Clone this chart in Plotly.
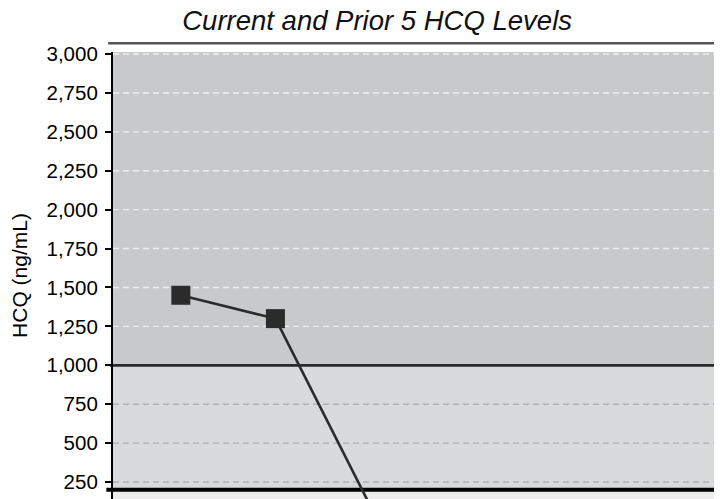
import plotly.graph_objects as go

# ---- data ----
sample_index = [1, 2, 3]
hcq_levels = [1450, 1300, 100]
tick_values = [250, 500, 750, 1000, 1250, 1500, 1750, 2000, 2250, 2500, 2750, 3000]
band_edges = [141, 200, 1000, 3013]   # lower edge, low threshold, high threshold, top
band_colors = ["#ededee", "#d9dadc", "#c8c9cb"]
threshold_values = [200, 1000]

y_range = [band_edges[0], band_edges[-1]]
x_range = [0.283, 6.72]

fig = go.Figure()

shapes = []
for i, col in enumerate(band_colors):
    shapes.append(dict(type="rect", xref="paper", yref="y", x0=0, x1=1,
                       y0=band_edges[i], y1=band_edges[i + 1],
                       fillcolor=col, line=dict(width=0), layer="below"))
for v in tick_values:
    if v in threshold_values:
        continue
    col = "#eeeeee" if v > threshold_values[1] else "#b0b0b2"
    shapes.append(dict(type="line", xref="paper", yref="y", x0=0, x1=1, y0=v, y1=v,
                       line=dict(color=col, width=1.4, dash="6px,4px"), layer="below"))
shapes.append(dict(type="line", xref="paper", yref="y", x0=-0.011, x1=1,
                   y0=threshold_values[0], y1=threshold_values[0],
                   line=dict(color="#000000", width=4), layer="below"))
shapes.append(dict(type="line", xref="paper", yref="y", x0=-0.005, x1=1,
                   y0=threshold_values[1], y1=threshold_values[1],
                   line=dict(color="#2a2a2a", width=2.8), layer="below"))
shapes.append(dict(type="line", xref="paper", yref="paper", x0=-0.008, x1=1,
                   y0=1.0195, y1=1.0195,
                   line=dict(color="#555555", width=2.5)))

fig.add_trace(go.Scatter(
    x=sample_index, y=hcq_levels, mode="lines+markers",
    line=dict(color="#2b2b2b", width=2.6),
    marker=dict(symbol="square", size=19, color="#2b2b2b"),
    cliponaxis=False, showlegend=False,
))

fig.update_layout(
    width=714, height=491,
    margin=dict(l=105, r=0, t=44, b=0, pad=0),
    paper_bgcolor="white", plot_bgcolor="white",
    shapes=shapes,
    title=dict(text="<i>Current and Prior 5 HCQ Levels</i>",
               x=0.517, xanchor="center", y=0.974, yanchor="middle",
               font=dict(family="Liberation Sans, Arial", size=27.5, color="#111111")),
    font=dict(family="Liberation Sans, Arial", color="#000000"),
)
fig.update_xaxes(range=x_range, showgrid=False, zeroline=False, showticklabels=False,
                 showline=False, ticks="")
fig.update_yaxes(range=y_range, tickvals=tick_values, tickformat=",d",
                 showgrid=False, zeroline=False,
                 showline=True, linecolor="#000000", linewidth=2.2,
                 ticks="outside", ticklen=6, tickwidth=2, tickcolor="#000000",
                 ticklabelstandoff=3,
                 tickfont=dict(size=20.5, color="#000000"),
                 title=dict(text="HCQ (ng/mL)", standoff=23,
                            font=dict(size=21, color="#000000")))

fig.write_html("out.html")
